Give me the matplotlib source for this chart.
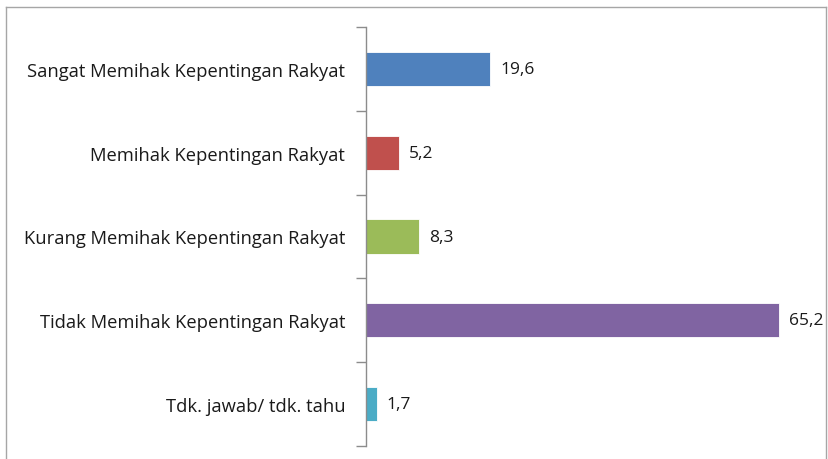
import matplotlib.pyplot as plt
from matplotlib.lines import Line2D

categories = [
    'Sangat Memihak Kepentingan Rakyat',
    'Memihak Kepentingan Rakyat',
    'Kurang Memihak Kepentingan Rakyat',
    'Tidak Memihak Kepentingan Rakyat',
    'Tdk. jawab/ tdk. tahu',
]
values = [19.6, 5.2, 8.3, 65.2, 1.7]
value_labels = ['19,6', '5,2', '8,3', '65,2', '1,7']
colors = ['#4F81BD', '#C0504D', '#9BBB59', '#8064A2', '#4BACC6']

plt.rcParams['font.family'] = ['Open Sans', 'DejaVu Sans']

fig = plt.figure(figsize=(8.29, 4.60), dpi=100)
ax = fig.add_axes([366 / 829, 1 - 447 / 460, 443 / 829, 419 / 460])

pos = list(range(len(categories)))
ax.barh(pos, values, height=0.41, color=colors, edgecolor='white', linewidth=0.6)
ax.set_ylim(len(categories) - 0.5, -0.5)
ax.set_xlim(0, 70)

# value labels
for p, v, t in zip(pos, values, value_labels):
    ax.text(v + 1.6, p, t, va='center', ha='left', fontsize=12.5, color='#1a1a1a')

# category labels without ticks, boundary ticks separately
ax.set_yticks(pos)
ax.set_yticklabels(categories, fontsize=13.2, color='#1a1a1a')
ax.tick_params(axis='y', length=0, pad=15)
ax.set_yticks([i - 0.5 for i in range(len(categories) + 1)], minor=True)
ax.tick_params(axis='y', which='minor', length=7, width=1, color='#8c8c8c')

ax.set_xticks([])
for s in ['top', 'right', 'bottom']:
    ax.spines[s].set_visible(False)
ax.spines['left'].set_color('#8c8c8c')
ax.spines['left'].set_linewidth(1)

# outer frame
frame_c = '#a6a6a6'
fig.add_artist(Line2D([6 / 829, 6 / 829], [0, 1 - 8 / 460], color=frame_c, lw=1, transform=fig.transFigure))
fig.add_artist(Line2D([6 / 829, 826 / 829], [1 - 8 / 460, 1 - 8 / 460], color=frame_c, lw=1, transform=fig.transFigure))
fig.add_artist(Line2D([826 / 829, 826 / 829], [0, 1 - 8 / 460], color=frame_c, lw=1, transform=fig.transFigure))

fig.savefig('out.png', dpi=100)
